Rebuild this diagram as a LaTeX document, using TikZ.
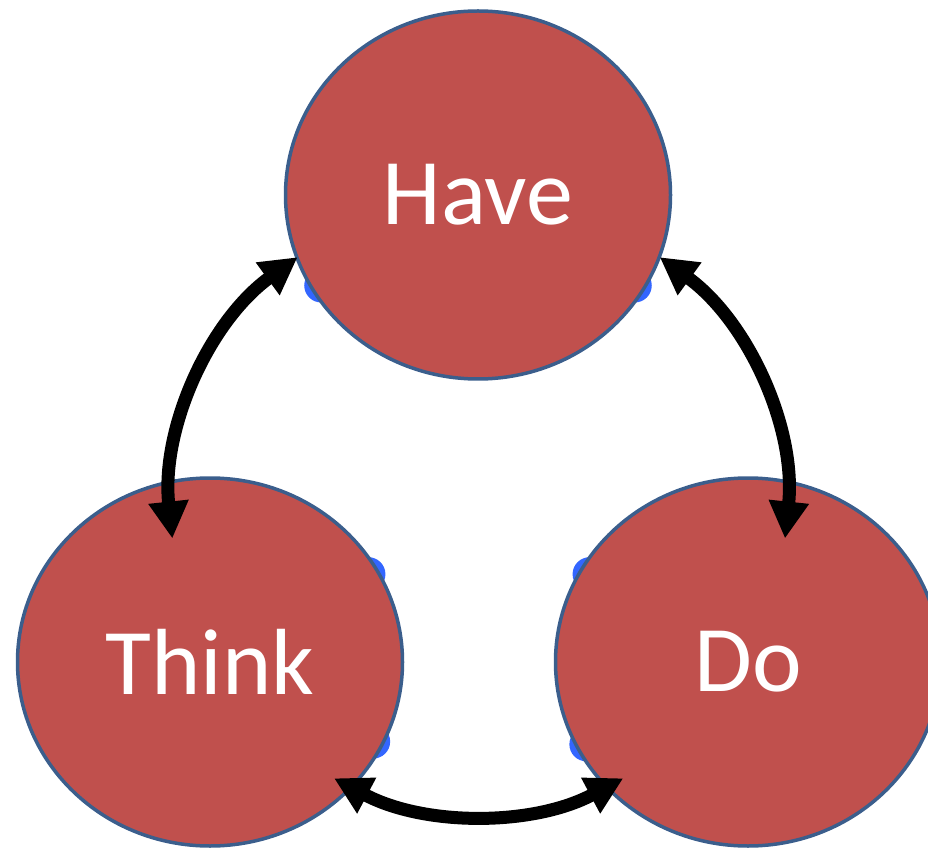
\documentclass[tikz,border=0pt]{standalone}
\usepackage{fontspec}
\setmainfont{Carlito}
\usetikzlibrary{shapes.geometric, arrows.meta, backgrounds, calc}

\definecolor{rouge}{HTML}{C0504D}
\definecolor{bord}{HTML}{3B5E8C}
\definecolor{bleu}{HTML}{3366FF}

\begin{document}
\begin{tikzpicture}[x=1pt, y=1pt,
  bulle/.style={ellipse, fill=rouge, draw=bord, line width=3.5pt, minimum width=385pt, minimum height=368pt, inner sep=0pt, text=white, font=\fontsize{94}{110}\selectfont},
  fleche/.style={{Triangle[length=37pt,width=38pt]}-{Triangle[length=37pt,width=38pt]}, line width=13pt},
  tache/.style={fill=bleu}]

\useasboundingbox (0,0) rectangle (928,847);

% Les trois cercles
\node[bulle] (Have) at (478,652) {Have};
\node[bulle] (Think) at (210,185) {Think};
\node[bulle] (Do) at (748,185) {Do};

% Le centre du cycle
\coordinate (pivot) at (barycentric cs:Have=1,Think=1,Do=1);

% Les petites taches bleues derrière les cercles
\begin{scope}[on background layer]
\foreach \n/\a in {Have/210, Have/330, Think/29, Think/334, Do/151, Do/207}
\fill[tache] ($(\n.\a)!11pt!(\n.center)$) circle (17pt);
\end{scope}

% Les flèches entre les cercles
\draw[fleche] ([shift={(126:308)}]pivot) arc[start angle=126, end angle=186, radius=308];
\draw[fleche] ([shift={(54:308)}]pivot) arc[start angle=54, end angle=-6, radius=308];
\draw[fleche] ([shift={(242:308)}]pivot) arc[start angle=242, end angle=298, radius=308];

\end{tikzpicture}
\end{document}
